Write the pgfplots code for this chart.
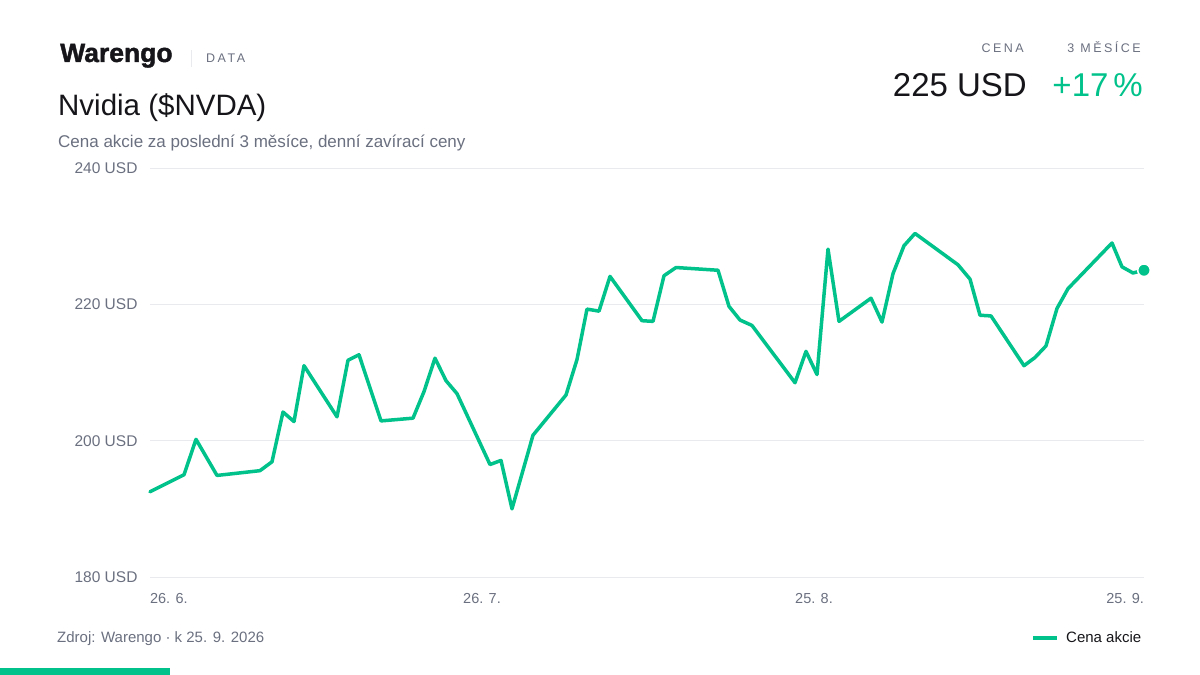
\documentclass[border=0pt]{standalone}
\usepackage{pgfplots}
\pgfplotsset{compat=1.18}
\usepackage{fontspec}
\setmainfont{Liberation Sans}
\newfontfamily\spaced[LetterSpace=20]{Liberation Sans}
\newfontfamily\logofont[FakeBold=1.6]{Liberation Sans Bold}
\definecolor{brand}{RGB}{0,194,138}
\definecolor{ink}{RGB}{22,22,26}
\definecolor{muted}{RGB}{107,112,128}
\definecolor{gridc}{RGB}{233,234,238}
\pgfplotstableread{
x y
0 192.5
34 195.0
46 200.2
67 194.9
110 195.6
122 196.9
133 204.2
144 202.8
154 211.0
187 203.5
198 211.8
209 212.6
231 202.9
263 203.3
274 207.2
285 212.1
296 208.8
307 206.9
340 196.5
351 197.1
362 190.0
383 200.8
416 206.7
427 211.9
437 219.3
449 219.0
460 224.1
492 217.6
503 217.5
514 224.2
526 225.4
547 225.2
568 225.0
579 219.7
590 217.7
602 216.9
645 208.5
656 213.1
667 209.7
678 228.1
689 217.5
721 220.9
732 217.4
743 224.5
754 228.6
765 230.4
808 225.8
820 223.7
830 218.4
841 218.3
874 211.0
885 212.2
896 213.9
907 219.4
918 222.3
962 229.0
972 225.5
983 224.6
994 225.0
}\pricedata
\begin{document}
\begin{tikzpicture}[x=1pt,y=1pt]
\path[fill=white,use as bounding box] (0,0) rectangle (1200,675);
% header
\node[anchor=base west,inner sep=0,text=ink,font=\fontsize{26.5}{30}\selectfont\logofont] at (60,613) {Warengo};
\draw[gridc,line width=1] (191,608) -- (191,625);
\node[anchor=base west,inner sep=0,text=muted,font=\fontsize{12.5}{14}\selectfont\spaced] at (206,612) {DATA};
\node[anchor=base west,inner sep=0,text=ink,font=\fontsize{29.5}{34}\selectfont] at (58,559) {Nvidia (\$NVDA)};
\node[anchor=base west,inner sep=0,text=muted,font=\fontsize{17}{20}\selectfont] at (58,527) {Cena akcie za poslední 3 měsíce, denní zavírací ceny};
\node[anchor=base east,inner sep=0,text=muted,font=\fontsize{12.5}{14}\selectfont\spaced] at (1024,622) {CENA};
\node[anchor=base east,inner sep=0,text=muted,font=\fontsize{12.5}{14}\selectfont\spaced] at (1141,622) {3 MĚSÍCE};
\node[anchor=base east,inner sep=0,text=ink,font=\fontsize{33}{38}\selectfont] at (1027,578) {225 USD};
\node[anchor=base east,inner sep=0,text=brand,font=\fontsize{33}{38}\selectfont] at (1143,578) {+17\hspace{5pt}\%};
% footer
\node[anchor=base west,inner sep=0,text=muted,font=\fontsize{15}{17}\selectfont] at (57,32) {Zdroj: Warengo · k 25. 9. 2026};
\draw[brand,line width=4] (1033,37) -- (1057,37);
\node[anchor=base west,inner sep=0,text=ink,font=\fontsize{15}{17}\selectfont] at (1066,32) {Cena akcie};
\fill[brand] (0,0) rectangle (170,7);
\begin{axis}[
  at={(150pt,98pt)}, anchor=south west,
  scale only axis, width=994pt, height=409pt,
  xmin=0, xmax=994, ymin=180, ymax=240,
  clip=false,
  axis line style={draw=none},
  major tick length=0pt,
  ymajorgrids, grid style={gridc,line width=1pt},
  ytick={180,200,220,240},
  yticklabels={180 USD,200 USD,220 USD,240 USD},
  xtick={0,332,664,994},
  xticklabels={\makebox[0pt][l]{26. 6.},26. 7.,25. 8.,\makebox[0pt][r]{25. 9.}},
  ticklabel style={text=muted},
  xticklabel style={yshift=-13pt,font=\fontsize{14.5}{17}\selectfont},
  yticklabel style={xshift=-9pt,font=\fontsize{15.5}{17}\selectfont},
]
\addplot[brand,line width=3.5pt,line join=round,line cap=round,no markers] table[x=x,y=y] {\pricedata};
\addplot[only marks,mark=*,mark size=6.3pt,mark options={fill=brand,draw=white,line width=1.5pt}] coordinates {(994,225.0)};
\end{axis}
\end{tikzpicture}
\end{document}
